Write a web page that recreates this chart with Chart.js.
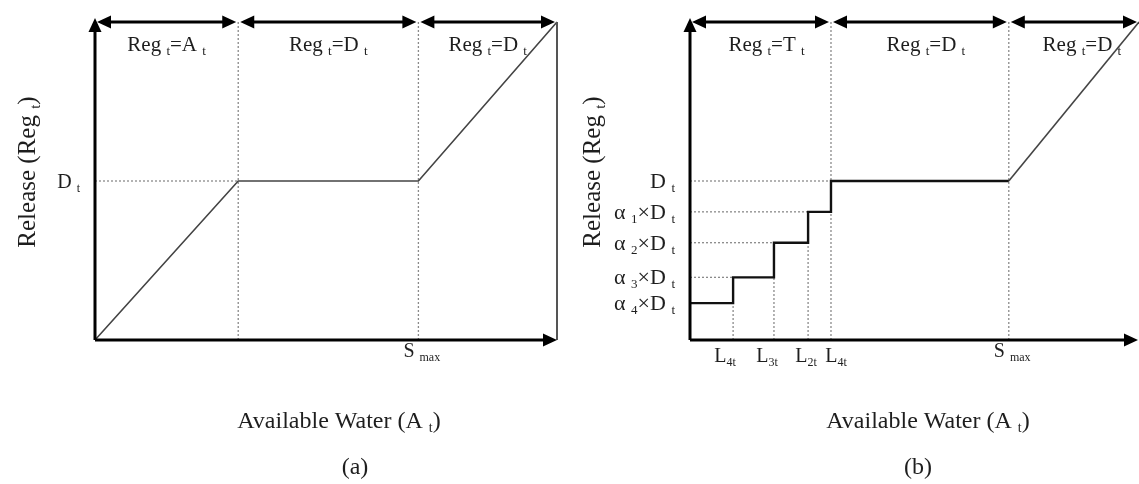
<!DOCTYPE html>
<html>
<head>
<meta charset="utf-8">
<script src="https://cdn.jsdelivr.net/npm/chart.js@4.4.1/dist/chart.umd.min.js"></script>
<style>
  body { margin: 0; background: #fff; }
  #wrap { position: relative; width: 1139px; height: 484px; }
  .panel { position: absolute; top: 0; height: 484px; }
</style>
</head>
<body>
<div id="wrap">
  <div class="panel" style="left:0;width:570px"><canvas id="chartA"></canvas></div>
  <div class="panel" style="left:570px;width:569px"><canvas id="chartB"></canvas></div>
</div>
<script>
// panel (a): standard operating policy
const releaseAX = [0, 31, 70, 100];
const releaseAY = [0, 50, 50, 100];
const regionsA = [0, 31, 70, 100];
const demandA = 50;
const smaxA = 70;

// panel (b): hedging rule
const hedgeX = [0, 9.6, 18.7, 26.3, 31.4, 71];
const hedgeY = [11.6, 19.7, 30.6, 40.3, 50, 50];
const spillX = [71, 100];
const spillY = [50, 100];
const regionsB = [0, 31.4, 71, 100];
const smaxB = 71;

// text, [string, isSubscript]
const regionLabelsA = [
  [['Reg ', 0], ['t', 1], ['=A ', 0], ['t', 1]],
  [['Reg ', 0], ['t', 1], ['=D ', 0], ['t', 1]],
  [['Reg ', 0], ['t', 1], ['=D ', 0], ['t', 1]],
];
const regionLabelsB = [
  [['Reg ', 0], ['t', 1], ['=T ', 0], ['t', 1]],
  [['Reg ', 0], ['t', 1], ['=D ', 0], ['t', 1]],
  [['Reg ', 0], ['t', 1], ['=D ', 0], ['t', 1]],
];
const demandLabel = [['D ', 0], ['t', 1]];
const hedgeLabels = [
  [['α ', 0], ['4', 1], ['×D ', 0], ['t', 1]],
  [['α ', 0], ['3', 1], ['×D ', 0], ['t', 1]],
  [['α ', 0], ['2', 1], ['×D ', 0], ['t', 1]],
  [['α ', 0], ['1', 1], ['×D ', 0], ['t', 1]],
  [['D ', 0], ['t', 1]],
];
const limitLabels = [
  [['L', 0], ['4t', 1]],
  [['L', 0], ['3t', 1]],
  [['L', 0], ['2t', 1]],
  [['L', 0], ['4t', 1]],
];
const smaxLabel = [['S ', 0], ['max', 1]];
const xTitle = [['Available Water (A ', 0], ['t', 1], [')', 0]];
const yTitle = [['Release (Reg ', 0], ['t', 1], [')', 0]];

const FONT = '"Liberation Serif", "Times New Roman", serif';
const INK = '#1e1e1e';

function drawRich(ctx, parts, x, y, size, align) {
  let w = 0;
  parts.forEach(([s, sub]) => {
    ctx.font = `${sub ? Math.round(size * 0.6) : size}px ${FONT}`;
    w += ctx.measureText(s).width;
  });
  let cx = align === 'center' ? x - w / 2 : align === 'right' ? x - w : x;
  ctx.textAlign = 'left';
  ctx.textBaseline = 'alphabetic';
  ctx.fillStyle = INK;
  parts.forEach(([s, sub]) => {
    ctx.font = `${sub ? Math.round(size * 0.6) : size}px ${FONT}`;
    ctx.fillText(s, cx, sub ? y + size * 0.18 : y);
    cx += ctx.measureText(s).width;
  });
}

function arrowHead(ctx, x, y, angle) {
  ctx.save();
  ctx.translate(x, y);
  ctx.rotate(angle);
  ctx.beginPath();
  ctx.moveTo(0, 0);
  ctx.lineTo(-14, -6.5);
  ctx.lineTo(-14, 6.5);
  ctx.closePath();
  ctx.fillStyle = '#000';
  ctx.fill();
  ctx.restore();
}

function dotted(ctx, x1, y1, x2, y2) {
  ctx.save();
  ctx.strokeStyle = '#8a8a8a';
  ctx.lineWidth = 1.3;
  ctx.setLineDash([2, 2]);
  ctx.beginPath();
  ctx.moveTo(x1, y1);
  ctx.lineTo(x2, y2);
  ctx.stroke();
  ctx.restore();
}

const diagramPlugin = {
  id: 'diagram',
  beforeDatasetsDraw(chart, args, opts) {
    const { ctx, scales: { x, y } } = chart;
    (opts.hGuides || []).forEach(([yv, xv]) => dotted(ctx, x.getPixelForValue(0), y.getPixelForValue(yv), x.getPixelForValue(xv), y.getPixelForValue(yv)));
    (opts.vGuides || []).forEach(([xv, yv]) => dotted(ctx, x.getPixelForValue(xv), y.getPixelForValue(0), x.getPixelForValue(xv), y.getPixelForValue(yv)));
  },
  afterDatasetsDraw(chart, args, opts) {
    const { ctx, chartArea: area, scales: { x, y } } = chart;
    const x0 = x.getPixelForValue(0), y0 = y.getPixelForValue(0);
    const top = area.top;
    ctx.save();

    if (opts.rightEdge) {
      ctx.strokeStyle = '#555';
      ctx.lineWidth = 2;
      ctx.beginPath();
      ctx.moveTo(x.getPixelForValue(100), top);
      ctx.lineTo(x.getPixelForValue(100), y0);
      ctx.stroke();
    }

    // axes
    ctx.strokeStyle = '#000';
    ctx.lineWidth = 3;
    ctx.beginPath();
    ctx.moveTo(x0, y0);
    ctx.lineTo(x0, top + 6);
    ctx.moveTo(x0, y0);
    ctx.lineTo(opts.xEnd - 8, y0);
    ctx.stroke();
    arrowHead(ctx, x0, top - 4, -Math.PI / 2);
    arrowHead(ctx, opts.xEnd, y0, 0);

    // region arrows along the top
    const b = opts.regions;
    for (let i = 0; i < b.length - 1; i++) {
      const xa = x.getPixelForValue(b[i]) + 2, xb = x.getPixelForValue(b[i + 1]) - 2;
      ctx.beginPath();
      ctx.moveTo(xa + 8, top);
      ctx.lineTo(xb - 8, top);
      ctx.stroke();
      arrowHead(ctx, xa, top, Math.PI);
      arrowHead(ctx, xb, top, 0);
      const xc = (x.getPixelForValue(b[i]) + x.getPixelForValue(b[i + 1])) / 2;
      drawRich(ctx, opts.regionLabels[i], xc + (opts.labelShift ? opts.labelShift[i] : 0), top + 29, 21, 'center');
    }

    (opts.yLabels || []).forEach(([yv, parts]) => drawRich(ctx, parts, x0 - 15, y.getPixelForValue(yv) + 7, opts.yLabelSize, 'right'));
    (opts.xLabels || []).forEach(([xv, parts], i) => drawRich(ctx, parts, x.getPixelForValue(xv) + opts.xLabelShift[i], y0 + 22, 20, 'center'));
    if (opts.smax !== undefined) drawRich(ctx, smaxLabel, x.getPixelForValue(opts.smax) - 15, y0 + 17, 20, 'left');

    drawRich(ctx, xTitle, opts.xTitleX, 428, 24, 'center');
    drawRich(ctx, [[opts.caption, 0]], opts.captionX, 474, 24, 'center');

    ctx.save();
    ctx.translate(opts.yTitleX, 172);
    ctx.rotate(-Math.PI / 2);
    drawRich(ctx, yTitle, 0, 0, 25, 'center');
    ctx.restore();

    ctx.restore();
  }
};

function pts(xs, ys) {
  return xs.map((v, i) => ({ x: v, y: ys[i] }));
}

function baseOptions(padding, diagram) {
  return {
    responsive: true,
    maintainAspectRatio: false,
    animation: false,
    layout: { padding },
    scales: {
      x: { type: 'linear', min: 0, max: 100, display: false },
      y: { type: 'linear', min: 0, max: 100, display: false },
    },
    plugins: { legend: { display: false }, tooltip: { enabled: false }, diagram },
  };
}

new Chart(document.getElementById('chartA'), {
  type: 'scatter',
  data: {
    datasets: [{
      data: pts(releaseAX, releaseAY),
      showLine: true,
      borderColor: '#444',
      borderWidth: 1.6,
      pointRadius: 0,
      clip: false,
    }],
  },
  options: baseOptions({ left: 95, right: 13, top: 22, bottom: 144 }, {
    regions: regionsA,
    regionLabels: regionLabelsA,
    hGuides: [[demandA, regionsA[1]]],
    vGuides: [[regionsA[1], 100], [regionsA[2], 100]],
    yLabels: [[demandA, demandLabel]],
    yLabelSize: 20,
    smax: smaxA,
    rightEdge: true,
    xEnd: 557,
    xTitleX: 339,
    captionX: 355,
    caption: '(a)',
    yTitleX: 35,
  }),
  plugins: [diagramPlugin],
});

new Chart(document.getElementById('chartB'), {
  type: 'scatter',
  data: {
    datasets: [{
      data: pts(hedgeX, hedgeY),
      showLine: true,
      stepped: true,
      borderColor: '#111',
      borderWidth: 2.4,
      pointRadius: 0,
      clip: false,
    }, {
      data: pts(spillX, spillY),
      showLine: true,
      borderColor: '#444',
      borderWidth: 1.6,
      pointRadius: 0,
      clip: false,
    }],
  },
  options: baseOptions({ left: 120, right: 0, top: 22, bottom: 144 }, {
    regions: regionsB,
    regionLabels: regionLabelsB,
    labelShift: [6, 6, 8],
    hGuides: hedgeY.slice(1, 5).map((v, i) => [v, hedgeX[i + 1]]),
    vGuides: hedgeX.slice(1, 4).map((v, i) => [v, hedgeY[i]]).concat([[regionsB[1], 100], [smaxB, 100]]),
    yLabels: hedgeY.slice(0, 5).map((v, i) => [v, hedgeLabels[i]]),
    yLabelSize: 22,
    xLabels: hedgeX.slice(1, 5).map((v, i) => [v, limitLabels[i]]),
    xLabelShift: [-8, -7, -2, 5],
    smax: smaxB,
    xEnd: 568,
    xTitleX: 358,
    captionX: 348,
    caption: '(b)',
    yTitleX: 30,
  }),
  plugins: [diagramPlugin],
});
</script>
</body>
</html>
